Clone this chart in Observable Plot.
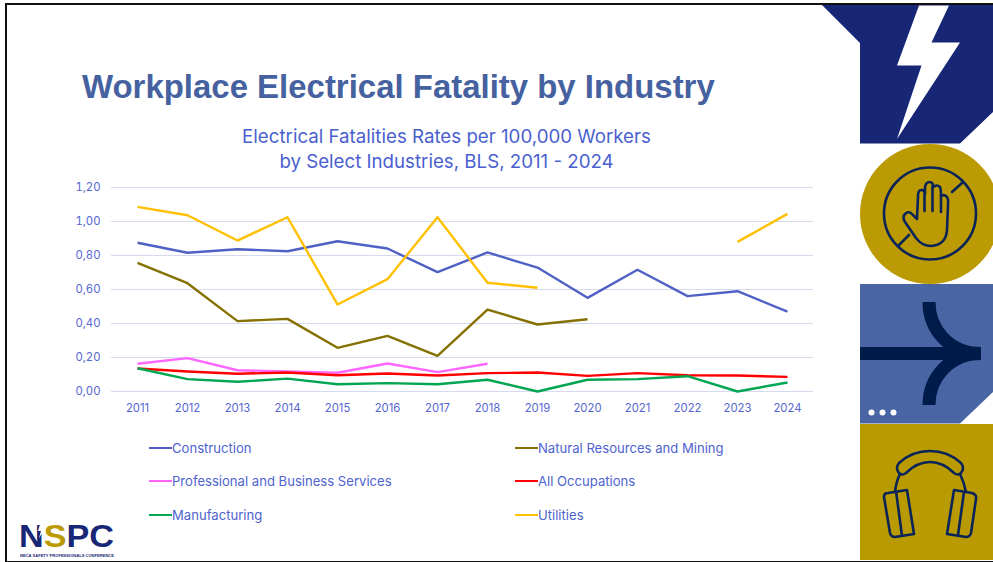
<!DOCTYPE html>
<html>
<head>
<meta charset="utf-8">
<script src="https://cdn.jsdelivr.net/npm/d3@7"></script>
<script src="https://cdn.jsdelivr.net/npm/@observablehq/plot@0.6"></script>
<style>
  html, body { margin: 0; padding: 0; background: #fff; }
  #slide { position: relative; width: 993px; height: 562px; overflow: hidden; font-family: Inter, sans-serif; }
  #slide > svg { position: absolute; left: 0; top: 0; }
  #frame { position: absolute; left: 5px; top: 3px; width: 990px; height: 556px; border: 2px solid #111; box-sizing: content-box; border-right: none; }
  h1 { position: absolute; left: 82px; top: 68px; margin: 0; font: bold 32.95px "Liberation Sans", Arial, sans-serif; color: #46619f; white-space: nowrap; }
  #subtitle { position: absolute; left: 100px; width: 693px; top: 124px; text-align: center; font-size: 18.7px; line-height: 25px; color: #4a5fcf; }
  .key { position: absolute; display: flex; align-items: center; font-size: 13.1px; color: #4f63cf; white-space: nowrap; height: 18px; }
  .key i { display: block; width: 23px; height: 2.5px; margin-right: 0; }
</style>
</head>
<body>
<div id="slide">
  <h1>Workplace Electrical Fatality by Industry</h1>
  <div id="subtitle">Electrical Fatalities Rates per 100,000 Workers<br>by Select Industries, BLS, 2011 - 2024</div>
  <div id="legend"></div>
  <div id="frame"></div>
</div>
<script>
// Fatality rates per 100,000 workers; null marks a year with no published rate.
const years = [2011, 2012, 2013, 2014, 2015, 2016, 2017, 2018, 2019, 2020, 2021, 2022, 2023, 2024];
const construction = [0.875, 0.816, 0.837, 0.825, 0.884, 0.841, 0.702, 0.818, 0.729, 0.551, 0.716, 0.561, 0.59, 0.47];
const naturalResources = [0.757, 0.637, 0.414, 0.427, 0.257, 0.327, 0.21, 0.482, 0.394, 0.425, null, null, null, null];
const professional = [0.163, 0.196, 0.125, 0.118, 0.11, 0.165, 0.114, 0.163, null, null, null, null, null, null];
const allOccupations = [0.135, 0.118, 0.104, 0.112, 0.096, 0.106, 0.094, 0.108, 0.112, 0.092, 0.108, 0.096, 0.094, 0.086];
const manufacturing = [0.137, 0.073, 0.057, 0.076, 0.043, 0.049, 0.043, 0.069, 0, 0.069, 0.073, 0.09, 0, 0.053];
const utilities = [1.086, 1.037, 0.888, 1.025, 0.512, 0.661, 1.025, 0.64, 0.61, null, null, null, 0.88, 1.045];

const yTicks = [0, 0.2, 0.4, 0.6, 0.8, 1.0, 1.2];

const series = [
  {name: "Construction", values: construction, color: "#4f61c5", left: 149, top: 439},
  {name: "Natural Resources and Mining", values: naturalResources, color: "#857000", left: 515, top: 439},
  {name: "Professional and Business Services", values: professional, color: "#ff66ff", left: 149, top: 472},
  {name: "All Occupations", values: allOccupations, color: "#ff0000", left: 515, top: 472},
  {name: "Manufacturing", values: manufacturing, color: "#00a651", left: 149, top: 506},
  {name: "Utilities", values: utilities, color: "#ffc000", left: 515, top: 506}
];

const rows = series.flatMap(s => years.map((year, i) => ({year, rate: s.values[i], name: s.name})));

const chart = Plot.plot({
  width: 993,
  height: 562,
  marginTop: 187,
  marginBottom: 171,
  marginLeft: 111,
  marginRight: 180,
  style: {background: "transparent", fontFamily: "Inter, sans-serif", fontSize: "11.3px", color: "#5566d2"},
  x: {type: "point", domain: years, padding: 0.5, label: null, tickSize: 0, tickPadding: 12, tickFormat: d => String(d)},
  y: {domain: [0, 1.2], ticks: yTicks, label: null, tickSize: 0, tickPadding: 11, tickFormat: d => d.toFixed(2).replace(".", ",")},
  color: {domain: series.map(s => s.name), range: series.map(s => s.color)},
  marks: [
    Plot.gridY(yTicks, {stroke: "#d5daee", strokeOpacity: 1, strokeWidth: 1}),
    Plot.line(rows, {x: "year", y: "rate", z: "name", stroke: "name", strokeWidth: 2.4, curve: "linear", strokeLinejoin: "round", strokeLinecap: "butt"})
  ]
});
document.getElementById("slide").prepend(chart);

// Legend entries, two columns of three rows.
const legend = document.getElementById("legend");
for (const s of series) {
  const key = document.createElement("div");
  key.className = "key";
  key.style.left = s.left + "px";
  key.style.top = s.top + "px";
  const swatch = document.createElement("i");
  swatch.style.background = s.color;
  key.append(swatch, s.name);
  legend.append(key);
}

// Right-hand decorative panels and the conference logo.
const art = `
<svg width="993" height="562" viewBox="0 0 993 562" xmlns="http://www.w3.org/2000/svg">
  <polygon points="822,5 993,5 993,112 960,143.500 860,143.500 860,43" fill="#172775"/>
  <polygon points="919,5.500 949,5.500 931.500,42.500 960,42.500 897,139 921.500,65.500 897,65.500" fill="#fff"/>
  <circle cx="930" cy="214" r="70" fill="#bc9a04"/>
  <g fill="none" stroke="#0b2458" stroke-width="2.600" stroke-linejoin="round" stroke-linecap="round">
    <circle cx="930" cy="213.500" r="46"/>
    <path d="M952 192 L962 183 M909 235 L899 245"/>
    <path d="M917 219 L918 196 Q918 190 921.500 190 Q925 190 925 194 L925 187 Q926 182 929.500 182 Q933 182 933.500 187 Q937 184 940 187 Q941 189 941 196 Q944 194 947 197 Q948.500 199 948 205 L947 230 Q946 245 931 246 Q922 246 916 238 L905 222 Q902 217 905 214 Q909 210 913 215 Z"/>
    <path d="M924.500 194 L924.500 211 M932.500 186 L932.500 211 M941 196 L941 212"/>
  </g>
  <polygon points="860,284 993,284 993,392 960,423.500 860,423.500" fill="#4a65a3"/>
  <g fill="none" stroke="#001a4a" stroke-width="13">
    <path d="M860 353.500 L980 353.500"/>
    <path d="M929 302 C929 330 950 353.500 981 353.500 C950 353.500 929 377 929 405"/>
  </g>
  <g fill="#fff"><circle cx="871.500" cy="412.500" r="3"/><circle cx="882.500" cy="412.500" r="3"/><circle cx="893.500" cy="412.500" r="3"/></g>
  <rect x="860" y="424" width="133" height="136" fill="#b99a00"/>
  <g fill="none" stroke="#0b2458" stroke-width="2.600" stroke-linejoin="round">
    <path d="M895 492 Q896 482 900 474 M960 474 Q964 482 966 492"/>
    <path d="M899 473 Q895 468 899 463 Q912 451 930 451 Q948 451 961 463 Q965 468 961 473 Q958 476 954 473 Q943 462 930 462 Q917 462 906 473 Q902 476 899 473 Z"/>
    <path d="M884 497 Q884 493 888 493 L907 490 L914 534 L895 537 Q891 537 890 533 Z"/>
    <path d="M896 491 L902 536"/>
    <path d="M954 490 L972 493 Q977 495 976 499 L971 533 Q970 537 966 537 L947 534 Z"/>
    <path d="M964 492 L958 535"/>
  </g>
  <g font-family="'Liberation Sans', Arial, sans-serif" font-weight="bold">
    <text x="19" y="546.500" font-size="32" fill="#172775" textLength="95" lengthAdjust="spacingAndGlyphs">N<tspan fill="#bc9a04">S</tspan>PC</text>
    <polygon points="41,521 38,531 41,531 39,538 46,527 43,527 45,521" fill="#fff"/>
    <text x="20" y="557.200" font-size="4.200" fill="#172775" textLength="94" lengthAdjust="spacingAndGlyphs">NECA SAFETY PROFESSIONALS CONFERENCE</text>
  </g>
</svg>`;
document.getElementById("slide").insertAdjacentHTML("beforeend", art);
</script>
</body>
</html>
